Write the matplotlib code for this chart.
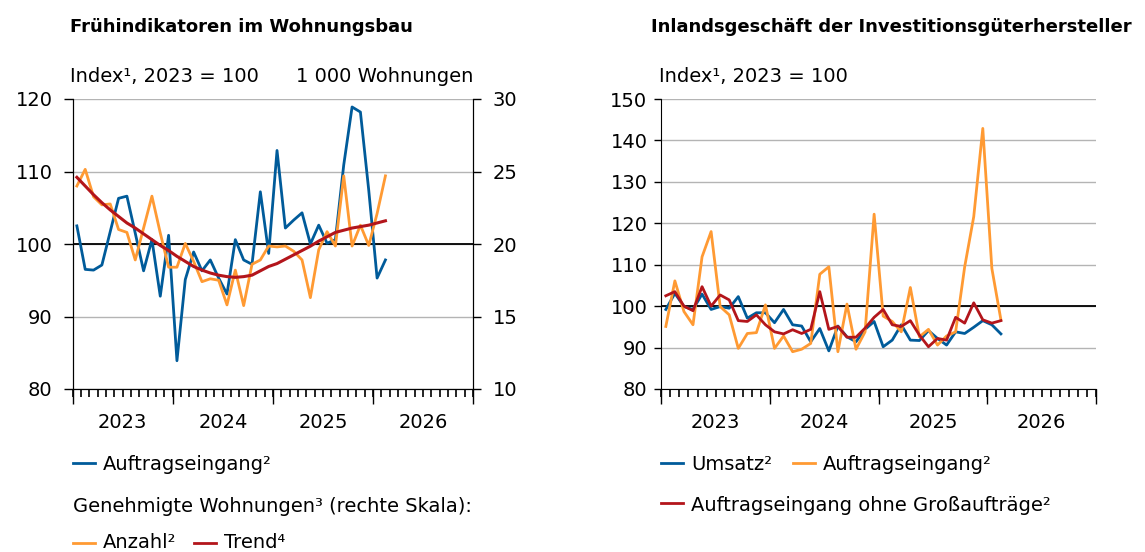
import matplotlib
matplotlib.use("Agg")
import matplotlib.pyplot as plt
from matplotlib.lines import Line2D
from matplotlib.ticker import FixedLocator, FixedFormatter, NullFormatter
import numpy as np

plt.rcParams['font.family'] = ['DejaVu Sans']

# ---- Daten (Monatswerte ab Januar 2023) ----
years = ["2023", "2024", "2025", "2026"]

# Frühindikatoren im Wohnungsbau
auftrag_bau = [102.5, 96.5, 96.4, 97.1, 101.7, 106.3, 106.6, 101.5, 96.3, 100.6,
               92.8, 101.2, 83.9, 95.1, 98.9, 96.3, 97.8, 95.3, 93.1, 100.6,
               97.8, 97.2, 107.2, 98.7, 112.9, 102.2, 103.3, 104.3, 100.0, 102.6,
               100.1, 100.6, 110.9, 118.9, 118.2, 107.4, 95.3, 97.8]
anzahl = [24.0, 25.15, 23.26, 22.7, 22.76, 21.0, 20.8, 18.9, 21.1, 23.3,
          20.76, 18.4, 18.4, 20.04, 18.8, 17.4, 17.6, 17.5, 15.8, 18.2,
          15.75, 18.6, 18.9, 19.86, 19.8, 19.86, 19.5, 18.9, 16.3, 19.6,
          20.85, 19.86, 24.7, 19.86, 21.3, 19.9, 22.1, 24.7]
trend = [24.6, 24.0, 23.4, 22.85, 22.35, 21.9, 21.45, 21.1, 20.7, 20.3,
         19.9, 19.55, 19.15, 18.8, 18.45, 18.2, 18.0, 17.85, 17.75, 17.7,
         17.75, 17.85, 18.15, 18.45, 18.65, 18.95, 19.25, 19.55, 19.85, 20.2,
         20.5, 20.8, 20.95, 21.1, 21.2, 21.3, 21.45, 21.6]

# Inlandsgeschäft der Investitionsgüterhersteller
umsatz = [99.2, 103.1, 99.9, 99.2, 102.9, 99.2, 99.9, 99.5, 102.3, 97.1,
          98.4, 98.4, 96.0, 99.2, 95.5, 95.2, 91.4, 94.6, 89.2, 95.2,
          92.6, 91.4, 94.4, 96.3, 90.2, 91.8, 95.5, 91.8, 91.7, 94.1,
          92.2, 90.6, 93.8, 93.4, 94.9, 96.5, 95.5, 93.3]
auftrag_inv = [95.1, 106.1, 98.7, 95.5, 111.9, 118.0, 99.9, 97.9, 89.8, 93.4,
               93.6, 100.3, 89.8, 92.8, 89.0, 89.6, 91.0, 107.7, 109.5, 89.0,
               100.5, 89.6, 93.8, 122.2, 97.6, 96.3, 93.8, 104.5, 92.6, 94.4,
               90.6, 92.8, 93.8, 109.5, 121.6, 142.9, 109.1, 96.7]
ohne_gross = [102.5, 103.5, 100.0, 98.9, 104.7, 100.0, 102.7, 101.5, 96.5, 96.3,
              97.9, 95.5, 93.8, 93.3, 94.3, 93.4, 94.4, 103.5, 94.4, 95.1,
              92.5, 92.5, 94.7, 97.3, 99.2, 95.5, 95.1, 96.5, 93.0, 90.2,
              92.2, 91.8, 97.3, 95.9, 100.8, 96.7, 95.9, 96.5]

BLUE = '#005b9a'
ORANGE = '#ff9a33'
RED = '#b3151b'
GRID = '#b4b4b4'
FS = 14

W, H = 1145, 552
fig = plt.figure(figsize=(W / 100, H / 100), dpi=100)


def fx(px):
    return px / W


def fy(py):
    return 1 - py / H


def setup_xaxis(ax):
    # Monatsstriche kurz, Jahresgrenzen lang, Jahreszahl in der Jahresmitte
    n_months = 12 * len(years)
    ax.set_xlim(0, n_months)
    months = list(range(0, n_months + 1))
    ax.xaxis.set_major_locator(FixedLocator(months))
    ax.xaxis.set_major_formatter(FixedFormatter(
        [years[m // 12] if m % 12 == 6 else '' for m in months]))
    ax.xaxis.set_minor_locator(FixedLocator(list(range(0, n_months + 1, 12))))
    ax.xaxis.set_minor_formatter(NullFormatter())
    ax.xaxis.remove_overlapping_locs = False
    ax.tick_params(axis='x', which='major', length=6, width=1.2, direction='out',
                   pad=11, labelsize=FS, color='black')
    ax.tick_params(axis='x', which='minor', bottom=True, length=10.8, width=1,
                   direction='out')


# ---- linkes Diagramm ----
ax = fig.add_axes([fx(72.7), fy(389), fx(400.3), 290 / H])
x = np.arange(len(auftrag_bau)) + 0.5
ax.set_ylim(80, 120)
ax.set_yticks([80, 90, 100, 110, 120])
ax.yaxis.grid(True, color=GRID, lw=1)
ax.set_axisbelow(True)
ax.axhline(100, color='black', lw=1.3, zorder=1)
ax.plot(x, auftrag_bau, color=BLUE, lw=2, zorder=3)
setup_xaxis(ax)
ax.tick_params(axis='y', length=6.5, width=1, pad=8, labelsize=FS)
ax.spines['top'].set_visible(False)

ax2 = ax.twinx()
ax2.set_ylim(10, 30)
ax2.set_yticks([10, 15, 20, 25, 30])
ax2.plot(x, anzahl, color=ORANGE, lw=2)
ax2.plot(x, trend, color=RED, lw=2.2)
ax2.tick_params(axis='y', length=5.8, width=1, pad=8.6, labelsize=FS)
ax2.spines['top'].set_visible(False)

# ---- rechtes Diagramm ----
bx = fig.add_axes([fx(661.3), fy(389), fx(434.7), 290 / H])
x2 = np.arange(len(umsatz)) + 0.5
bx.set_ylim(80, 150)
bx.set_yticks(range(80, 151, 10))
bx.yaxis.grid(True, color=GRID, lw=1)
bx.set_axisbelow(True)
bx.axhline(100, color='black', lw=1.3, zorder=1)
bx.plot(x2, umsatz, color=BLUE, lw=2, zorder=3)
bx.plot(x2, auftrag_inv, color=ORANGE, lw=2, zorder=3)
bx.plot(x2, ohne_gross, color=RED, lw=2, zorder=4)
setup_xaxis(bx)
bx.tick_params(axis='y', length=5, width=1, pad=5, labelsize=FS)
bx.spines['top'].set_visible(False)
bx.spines['right'].set_visible(False)

# ---- Texte ----
fig.text(fx(70), fy(32), "Frühindikatoren im Wohnungsbau", fontsize=13,
         fontweight='bold', va='baseline')
fig.text(fx(651), fy(32), "Inlandsgeschäft der Investitionsgüterhersteller", fontsize=13,
         fontweight='bold', va='baseline')
fig.text(fx(70), fy(82), "Index¹, 2023 = 100", fontsize=FS, va='baseline')
fig.text(fx(473), fy(82), "1 000 Wohnungen", fontsize=FS, va='baseline', ha='right')
fig.text(fx(659), fy(82), "Index¹, 2023 = 100", fontsize=FS, va='baseline')


def legend_entry(x0, y_line, y_base, color, label):
    fig.add_artist(Line2D([fx(x0), fx(x0 + 22)], [fy(y_line), fy(y_line)],
                          transform=fig.transFigure, color=color, lw=2))
    fig.text(fx(x0 + 30), fy(y_base), label, fontsize=FS, va='baseline')


legend_entry(72.7, 462.7, 470, BLUE, "Auftragseingang²")
fig.text(fx(72.7), fy(511.5), "Genehmigte Wohnungen³ (rechte Skala):", fontsize=FS,
         va='baseline')
legend_entry(72.7, 543, 548, ORANGE, "Anzahl²")
legend_entry(194, 543, 548, RED, "Trend⁴")

legend_entry(661, 462.7, 470, BLUE, "Umsatz²")
legend_entry(793, 462.7, 470, ORANGE, "Auftragseingang²")
legend_entry(661, 503, 510.7, RED, "Auftragseingang ohne Großaufträge²")

fig.savefig("out.png", dpi=100)
